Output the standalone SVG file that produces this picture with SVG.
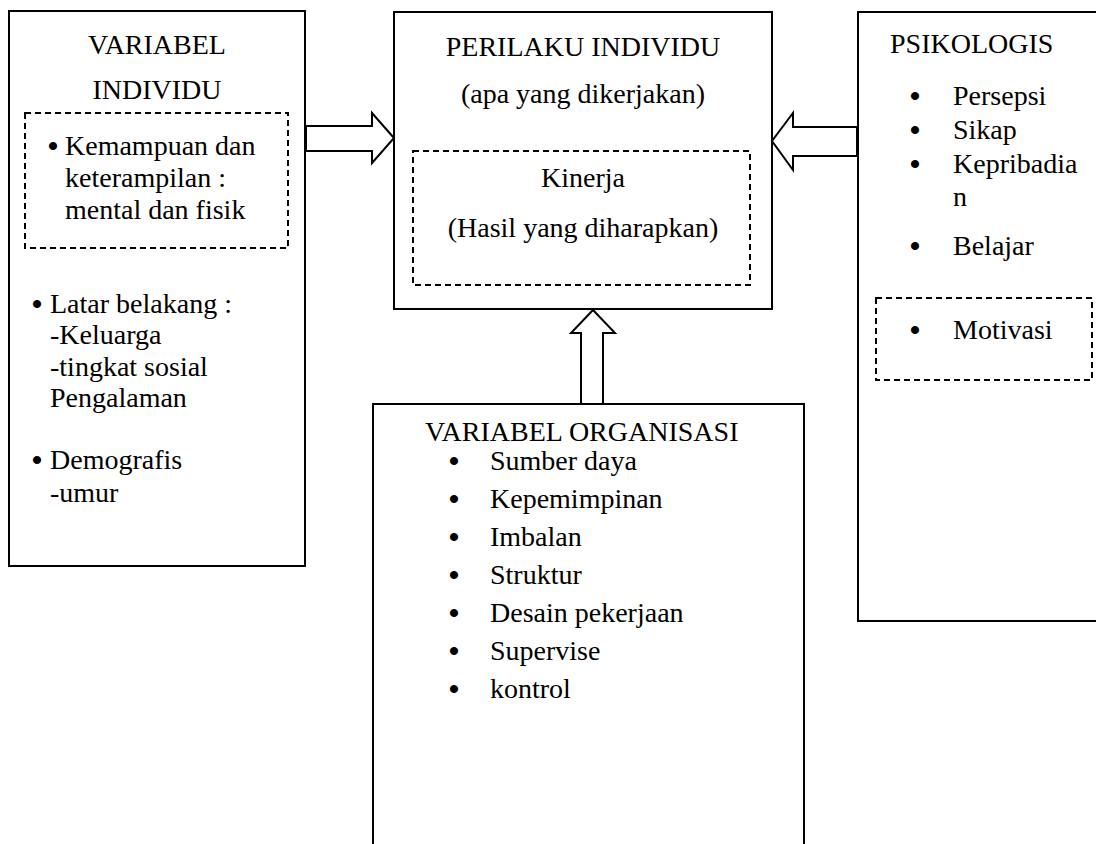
<svg xmlns="http://www.w3.org/2000/svg" width="1096" height="844" viewBox="0 0 1096 844">
<style>
.box{fill:#fff;stroke:#000;stroke-width:2}
.dash{fill:none;stroke:#000;stroke-width:2;stroke-dasharray:6 4}
.arr{fill:#fff;stroke:#000;stroke-width:2;stroke-linejoin:miter}
.c{text-anchor:middle}
.b{text-anchor:middle;font-size:30px;font-weight:bold}
</style>
<rect width="1096" height="844" fill="#fff"/>
<g font-family="'Liberation Serif', 'Times New Roman', serif" font-size="28" fill="#000">
<g id="variabel-individu">
<rect class="box" x="9" y="11" width="296" height="555"/>
<text class="c" x="157" y="54">VARIABEL</text>
<text class="c" x="157" y="99">INDIVIDU</text>
<rect class="dash" x="25" y="113" width="263" height="135"/>
<text class="b" x="53" y="156">•</text>
<text x="65" y="155">Kemampuan dan</text>
<text x="65" y="187">keterampilan :</text>
<text x="65" y="219">mental dan fisik</text>
<text class="b" x="37" y="314">•</text>
<text x="50" y="313">Latar belakang :</text>
<text x="50" y="344">-Keluarga</text>
<text x="50" y="376">-tingkat sosial</text>
<text x="50" y="407">Pengalaman</text>
<text class="b" x="37" y="470">•</text>
<text x="50" y="469">Demografis</text>
<text x="50" y="502">-umur</text>
</g>
<g id="perilaku-individu">
<rect class="box" x="394" y="12" width="378" height="297"/>
<text class="c" x="583" y="56">PERILAKU INDIVIDU</text>
<text class="c" x="583" y="103">(apa yang dikerjakan)</text>
<rect class="dash" x="413" y="151" width="337" height="134"/>
<text class="c" x="583" y="187">Kinerja</text>
<text class="c" x="583" y="237">(Hasil yang diharapkan)</text>
</g>
<g id="psikologis">
<rect class="box" x="858" y="12" width="250" height="609"/>
<text x="890" y="53">PSIKOLOGIS</text>
<text class="b" x="915" y="106">•</text>
<text x="953" y="105">Persepsi</text>
<text class="b" x="915" y="140">•</text>
<text x="953" y="139">Sikap</text>
<text class="b" x="915" y="174">•</text>
<text x="953" y="173">Kepribadia</text>
<text x="953" y="206">n</text>
<text class="b" x="915" y="256">•</text>
<text x="953" y="255">Belajar</text>
<rect class="dash" x="876" y="298" width="216" height="82"/>
<text class="b" x="915" y="340">•</text>
<text x="953" y="339">Motivasi</text>
</g>
<g id="variabel-organisasi">
<rect class="box" x="373" y="404" width="431" height="460"/>
<text x="425" y="441">VARIABEL ORGANISASI</text>
<text class="b" x="454" y="471">•</text><text x="490" y="470">Sumber daya</text>
<text class="b" x="454" y="509">•</text><text x="490" y="508">Kepemimpinan</text>
<text class="b" x="454" y="547">•</text><text x="490" y="546">Imbalan</text>
<text class="b" x="454" y="585">•</text><text x="490" y="584">Struktur</text>
<text class="b" x="454" y="623">•</text><text x="490" y="622">Desain pekerjaan</text>
<text class="b" x="454" y="661">•</text><text x="490" y="660">Supervise</text>
<text class="b" x="454" y="699">•</text><text x="490" y="698">kontrol</text>
</g>
</g>
<g id="connectors">
<polygon class="arr" points="306,126 372,126 372,113 394,138 372,163 372,151 306,151"/>
<polygon class="arr" points="857,127 793,127 793,113 772,141 793,170 793,156 857,156"/>
<polygon class="arr" points="581,404 581,333 571,333 593,310 615,333 603,333 603,404"/>
</g>
</svg>
